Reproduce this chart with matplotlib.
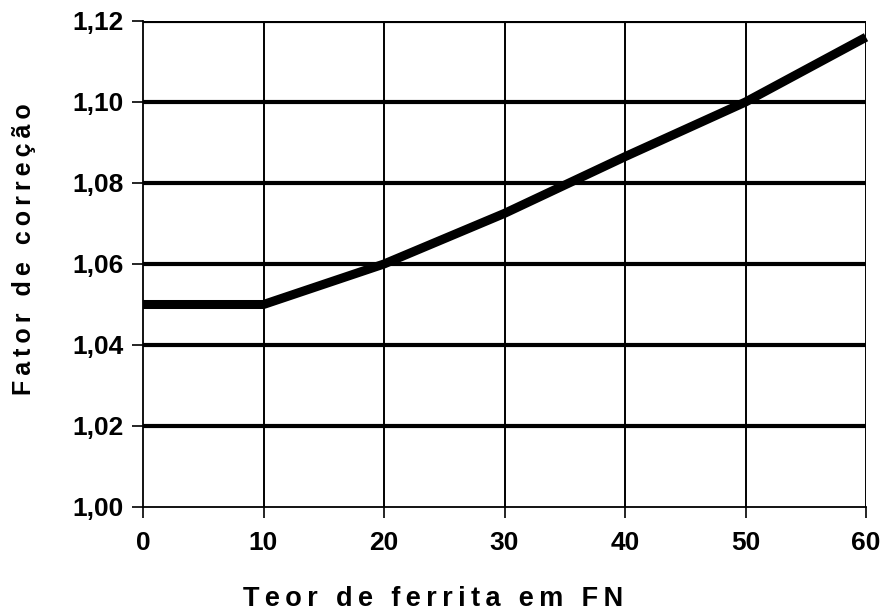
import matplotlib
matplotlib.use("Agg")
import matplotlib.pyplot as plt

# Fator de correcao vs teor de ferrita (FN)
ferrite_fn = [0, 10, 20, 30, 40, 50, 60]
correction = [1.05, 1.05, 1.06, 1.0725, 1.0865, 1.100, 1.116]

x_ticks = [0, 10, 20, 30, 40, 50, 60]
y_ticks = [1.00, 1.02, 1.04, 1.06, 1.08, 1.10, 1.12]
y_tick_labels = ["1,00", "1,02", "1,04", "1,06", "1,08", "1,10", "1,12"]

x_label = "Teor de ferrita em FN"
y_label = "Fator de correção"

plt.rcParams['font.family'] = ['Liberation Sans', 'DejaVu Sans']
plt.rcParams['font.weight'] = 'bold'


def spaced(text):
    # wide letter spacing like the scanned original
    return "\u2009".join(text)


fig = plt.figure(figsize=(8.85, 6.16), dpi=100)
ax = fig.add_axes([143 / 885, 1 - 507 / 616, 723 / 885, 486 / 616])

ax.set_xlim(0, 60)
ax.set_ylim(1.00, 1.12)

# grid: heavy horizontals, light verticals
for y in y_ticks[1:]:
    ax.axhline(y, color='black', lw=3.0, zorder=1)
for x in x_ticks[1:]:
    ax.axvline(x, color='black', lw=1.4, zorder=1)

ax.plot(ferrite_fn, correction, color='black', lw=6.5, solid_capstyle='butt',
        solid_joinstyle='miter', zorder=3, clip_on=False)

for side in ['left', 'bottom']:
    ax.spines[side].set_linewidth(1.3)
ax.spines['top'].set_visible(False)
ax.spines['right'].set_visible(False)

ax.set_xticks(x_ticks)
ax.set_xticklabels([str(v) for v in x_ticks], fontsize=19, fontweight='bold')
ax.set_yticks(y_ticks)
ax.set_yticklabels(y_tick_labels, fontsize=19, fontweight='bold')
ax.tick_params(axis='both', direction='out', length=8, width=1.2, color='black')
ax.tick_params(axis='x', pad=9)
ax.tick_params(axis='y', pad=6)

ax.set_xlabel(spaced(x_label), fontsize=19.5, fontweight='bold')
ax.xaxis.set_label_coords(0.401, -0.162)
ax.set_ylabel(spaced(y_label), fontsize=18, fontweight='bold')
ax.yaxis.set_label_coords(-0.148, 0.53)

fig.savefig("out.png", dpi=100, facecolor='white')
